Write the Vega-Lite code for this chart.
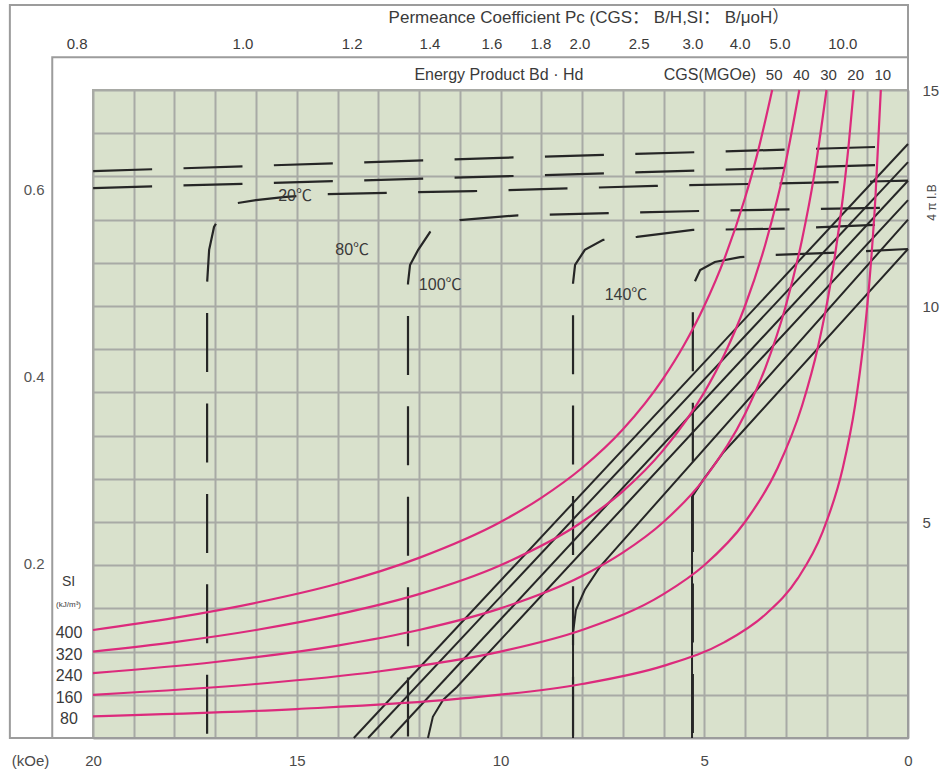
{
  "$schema": "https://vega.github.io/schema/vega-lite/v6.json",
  "width": 815,
  "height": 648,
  "autosize": {"type": "none"},
  "padding": {"left": 93, "top": 90, "right": 34, "bottom": 38},
  "background": "#ffffff",
  "config": {
    "font": "Liberation Sans, Noto Sans CJK SC, sans-serif",
    "view": {"fill": "#d9e1cc", "stroke": "#a8aaa5", "strokeWidth": 2},
    "axis": {"labelColor": "#4a4a4a", "titleColor": "#4a4a4a", "titleFontWeight": "normal"},
    "text": {"fill": "#3a3a3a"}
  },
  "datasets": {
    "pink": [
      {"BH": 50, "H": 20, "B": 2.5}, {"BH": 50, "H": 18, "B": 2.78}, {"BH": 50, "H": 16, "B": 3.13}, {"BH": 50, "H": 14, "B": 3.57},
      {"BH": 50, "H": 12, "B": 4.17}, {"BH": 50, "H": 10, "B": 5}, {"BH": 50, "H": 9, "B": 5.56}, {"BH": 50, "H": 8, "B": 6.25},
      {"BH": 50, "H": 7, "B": 7.14}, {"BH": 50, "H": 6, "B": 8.33}, {"BH": 50, "H": 5.5, "B": 9.09}, {"BH": 50, "H": 5, "B": 10},
      {"BH": 50, "H": 4.5, "B": 11.11}, {"BH": 50, "H": 4, "B": 12.5}, {"BH": 50, "H": 3.7, "B": 13.51}, {"BH": 50, "H": 3.333, "B": 15},
      {"BH": 40, "H": 20, "B": 2}, {"BH": 40, "H": 18, "B": 2.22}, {"BH": 40, "H": 16, "B": 2.5}, {"BH": 40, "H": 14, "B": 2.86},
      {"BH": 40, "H": 12, "B": 3.33}, {"BH": 40, "H": 10, "B": 4}, {"BH": 40, "H": 8, "B": 5}, {"BH": 40, "H": 7, "B": 5.71},
      {"BH": 40, "H": 6, "B": 6.67}, {"BH": 40, "H": 5, "B": 8}, {"BH": 40, "H": 4.5, "B": 8.89}, {"BH": 40, "H": 4, "B": 10},
      {"BH": 40, "H": 3.5, "B": 11.43}, {"BH": 40, "H": 3.2, "B": 12.5}, {"BH": 40, "H": 3, "B": 13.33}, {"BH": 40, "H": 2.667, "B": 15},
      {"BH": 30, "H": 20, "B": 1.5}, {"BH": 30, "H": 17, "B": 1.76}, {"BH": 30, "H": 14, "B": 2.14}, {"BH": 30, "H": 12, "B": 2.5},
      {"BH": 30, "H": 10, "B": 3}, {"BH": 30, "H": 8, "B": 3.75}, {"BH": 30, "H": 7, "B": 4.29}, {"BH": 30, "H": 6, "B": 5},
      {"BH": 30, "H": 5, "B": 6}, {"BH": 30, "H": 4, "B": 7.5}, {"BH": 30, "H": 3.5, "B": 8.57}, {"BH": 30, "H": 3, "B": 10},
      {"BH": 30, "H": 2.6, "B": 11.54}, {"BH": 30, "H": 2.3, "B": 13.04}, {"BH": 30, "H": 2, "B": 15},
      {"BH": 20, "H": 20, "B": 1}, {"BH": 20, "H": 16, "B": 1.25}, {"BH": 20, "H": 13, "B": 1.54}, {"BH": 20, "H": 10, "B": 2},
      {"BH": 20, "H": 8, "B": 2.5}, {"BH": 20, "H": 6, "B": 3.33}, {"BH": 20, "H": 5, "B": 4}, {"BH": 20, "H": 4, "B": 5},
      {"BH": 20, "H": 3.2, "B": 6.25}, {"BH": 20, "H": 2.6, "B": 7.69}, {"BH": 20, "H": 2.2, "B": 9.09}, {"BH": 20, "H": 1.9, "B": 10.53},
      {"BH": 20, "H": 1.6, "B": 12.5}, {"BH": 20, "H": 1.45, "B": 13.79}, {"BH": 20, "H": 1.333, "B": 15},
      {"BH": 10, "H": 20, "B": 0.5}, {"BH": 10, "H": 15, "B": 0.67}, {"BH": 10, "H": 11, "B": 0.91}, {"BH": 10, "H": 8, "B": 1.25},
      {"BH": 10, "H": 6, "B": 1.67}, {"BH": 10, "H": 4.5, "B": 2.22}, {"BH": 10, "H": 3.5, "B": 2.86}, {"BH": 10, "H": 2.7, "B": 3.7},
      {"BH": 10, "H": 2.1, "B": 4.76}, {"BH": 10, "H": 1.6, "B": 6.25}, {"BH": 10, "H": 1.3, "B": 7.69}, {"BH": 10, "H": 1.1, "B": 9.09},
      {"BH": 10, "H": 0.95, "B": 10.53}, {"BH": 10, "H": 0.8, "B": 12.5}, {"BH": 10, "H": 0.667, "B": 15}
    ],
    "grades": [
      {"BH": 50, "SI": "400"}, {"BH": 40, "SI": "320"}, {"BH": 30, "SI": "240"}, {"BH": 20, "SI": "160"}, {"BH": 10, "SI": "80"}
    ],
    "intrinsic": [
      {"c": "A", "i": 0, "H": 0.81, "B": 13.68}, {"c": "A", "i": 1, "H": 10, "B": 13.43}, {"c": "A", "i": 2, "H": 20, "B": 13.12},
      {"c": "B", "i": 0, "H": 0.81, "B": 13.26}, {"c": "B", "i": 1, "H": 10, "B": 13.0}, {"c": "B", "i": 2, "H": 20, "B": 12.73},
      {"c": "C", "i": 0, "H": 0, "B": 12.9}, {"c": "C", "i": 1, "H": 6.2, "B": 12.78}, {"c": "C", "i": 2, "H": 10.67, "B": 12.66},
      {"c": "C", "i": 3, "H": 14.3, "B": 12.59}, {"c": "C", "i": 4, "H": 15.33, "B": 12.52}, {"c": "C", "i": 5, "H": 16.0, "B": 12.45},
      {"c": "C", "i": 6, "H": 16.47, "B": 12.38}, {"c": "C", "i": 7, "H": 16.8, "B": 12.2}, {"c": "C", "i": 8, "H": 17.03, "B": 11.83},
      {"c": "C", "i": 9, "H": 17.15, "B": 11.3}, {"c": "C", "i": 10, "H": 17.2, "B": 10.53}, {"c": "C", "i": 11, "H": 17.2, "B": 0},
      {"c": "D", "i": 0, "H": 0.69, "B": 12.27}, {"c": "D", "i": 1, "H": 5.1, "B": 12.2}, {"c": "D", "i": 2, "H": 9.57, "B": 12.1},
      {"c": "D", "i": 3, "H": 11.0, "B": 11.99}, {"c": "D", "i": 4, "H": 11.5, "B": 11.85}, {"c": "D", "i": 5, "H": 11.73, "B": 11.71},
      {"c": "D", "i": 6, "H": 12.02, "B": 11.3}, {"c": "D", "i": 7, "H": 12.22, "B": 10.95}, {"c": "D", "i": 8, "H": 12.27, "B": 10.53},
      {"c": "D", "i": 9, "H": 12.27, "B": 0},
      {"c": "E", "i": 0, "H": 0.81, "B": 11.88}, {"c": "E", "i": 1, "H": 3.02, "B": 11.79}, {"c": "E", "i": 2, "H": 5.28, "B": 11.76},
      {"c": "E", "i": 3, "H": 6.65, "B": 11.6}, {"c": "E", "i": 4, "H": 7.48, "B": 11.53}, {"c": "E", "i": 5, "H": 7.93, "B": 11.3},
      {"c": "E", "i": 6, "H": 8.17, "B": 10.95}, {"c": "E", "i": 7, "H": 8.22, "B": 10.53}, {"c": "E", "i": 8, "H": 8.22, "B": 0},
      {"c": "F", "i": 0, "H": 0, "B": 11.32}, {"c": "F", "i": 1, "H": 1.91, "B": 11.23}, {"c": "F", "i": 2, "H": 3.34, "B": 11.18},
      {"c": "F", "i": 3, "H": 4.12, "B": 11.13}, {"c": "F", "i": 4, "H": 4.74, "B": 11.02}, {"c": "F", "i": 5, "H": 5.1, "B": 10.83},
      {"c": "F", "i": 6, "H": 5.25, "B": 10.53}, {"c": "F", "i": 7, "H": 5.28, "B": 10.1}, {"c": "F", "i": 8, "H": 5.28, "B": 0}
    ],
    "normal": [
      {"c": "L1", "i": 0, "H": 0, "B": 13.75}, {"c": "L1", "i": 1, "H": 13.6, "B": 0},
      {"c": "L2", "i": 0, "H": 0, "B": 13.33}, {"c": "L2", "i": 1, "H": 13.25, "B": 0},
      {"c": "L3", "i": 0, "H": 0, "B": 12.9}, {"c": "L3", "i": 1, "H": 12.7, "B": 0},
      {"c": "L4", "i": 0, "H": 0, "B": 12.45}, {"c": "L4", "i": 1, "H": 10.6, "B": 1.66}, {"c": "L4", "i": 2, "H": 11.07, "B": 1.18},
      {"c": "L4", "i": 3, "H": 11.41, "B": 0.88}, {"c": "L4", "i": 4, "H": 11.66, "B": 0.49}, {"c": "L4", "i": 5, "H": 11.78, "B": 0},
      {"c": "L5", "i": 0, "H": 0, "B": 12.0}, {"c": "L5", "i": 1, "H": 7.2, "B": 4.35}, {"c": "L5", "i": 2, "H": 7.56, "B": 3.96},
      {"c": "L5", "i": 3, "H": 7.93, "B": 3.43}, {"c": "L5", "i": 4, "H": 8.15, "B": 2.96}, {"c": "L5", "i": 5, "H": 8.22, "B": 2.43},
      {"c": "L5", "i": 6, "H": 8.22, "B": 0},
      {"c": "L6", "i": 0, "H": 0, "B": 11.32}, {"c": "L6", "i": 1, "H": 4.2, "B": 6.95}, {"c": "L6", "i": 2, "H": 4.54, "B": 6.6},
      {"c": "L6", "i": 3, "H": 5.03, "B": 5.97}, {"c": "L6", "i": 4, "H": 5.3, "B": 5.58}, {"c": "L6", "i": 5, "H": 5.3, "B": 0}
    ],
    "temps": [
      {"label": "20℃", "H": 15.04, "B": 12.55},
      {"label": "80℃", "H": 13.64, "B": 11.3},
      {"label": "100℃", "H": 11.48, "B": 10.49},
      {"label": "140℃", "H": 6.92, "B": 10.25}
    ],
    "pc": [
      {"Pc": "0.8", "H": 20.39}, {"Pc": "1.0", "H": 16.32}, {"Pc": "1.2", "H": 13.64}, {"Pc": "1.4", "H": 11.73},
      {"Pc": "1.6", "H": 10.21}, {"Pc": "1.8", "H": 9.01}, {"Pc": "2.0", "H": 8.05}, {"Pc": "2.5", "H": 6.6},
      {"Pc": "3.0", "H": 5.28}, {"Pc": "4.0", "H": 4.12}, {"Pc": "5.0", "H": 3.14}, {"Pc": "10.0", "H": 1.6}
    ],
    "left": [{"T": 0.2}, {"T": 0.4}, {"T": 0.6}]
  },
  "layer": [
    {
      "layer": [
        {
          "data": {"values": [{}]},
          "mark": {"type": "rect", "fill": "transparent", "stroke": "#9c9c9c", "strokeWidth": 2},
          "encoding": {
            "x": {"datum": 22.04, "type": "quantitative",
              "scale": {"domain": [0, 20], "reverse": true, "nice": false, "zero": false},
              "axis": {"orient": "bottom", "values": [0,1,2,3,4,5,6,7,8,9,10,11,12,13,14,15,16,17,18,19,20],
                "labelExpr": "datum.value % 5 === 0 ? datum.label : ''",
                "grid": true, "gridColor": "#a8aaa5", "gridWidth": 2, "domain": false, "ticks": false,
                "labelFlush": false, "labelOverlap": false, "labelPadding": 22, "labelBaseline": "middle", "labelFontSize": 15,
                "title": "(kOe)", "titleX": -63, "titleY": 22, "titleAlign": "center", "titleBaseline": "middle", "titleFontSize": 15}},
            "x2": {"datum": 0},
            "y": {"datum": 0, "type": "quantitative",
              "scale": {"domain": [0, 15], "nice": false, "zero": false},
              "axis": {"orient": "right", "values": [0,1,2,3,4,5,6,7,8,9,10,11,12,13,14,15],
                "labelExpr": "datum.value % 5 === 0 && datum.value > 0 ? datum.label : ''",
                "grid": true, "gridColor": "#a8aaa5", "gridWidth": 2, "domain": false, "ticks": false,
                "labelFlush": false, "labelOverlap": false, "labelPadding": 14, "labelFontSize": 15, "labelBaseline": "middle",
                "title": "4 π I.B", "titleAngle": -90, "titleX": 23, "titleY": 112, "titleAlign": "center", "titleBaseline": "middle", "titleFontSize": 12}},
            "y2": {"datum": 16.97}
          }
        },
        {
          "data": {"values": [{}]},
          "mark": {"type": "rect", "fill": "transparent", "stroke": "#9c9c9c", "strokeWidth": 2},
          "encoding": {
            "x": {"datum": 21.0, "type": "quantitative"},
            "x2": {"datum": 0},
            "y": {"datum": 0, "type": "quantitative"},
            "y2": {"datum": 15.76}
          }
        },
        {
          "data": {"name": "intrinsic"},
          "transform": [{"filter": "datum.c !== 'C' && datum.c !== 'F'"}],
          "mark": {"type": "line", "stroke": "#262626", "strokeWidth": 2.2, "strokeDash": [59, 31.4], "strokeDashOffset": 0},
          "encoding": {
            "x": {"field": "H", "type": "quantitative"},
            "y": {"field": "B", "type": "quantitative"},
            "detail": {"field": "c"},
            "order": {"field": "i"}
          }
        },
        {
          "data": {"name": "intrinsic"},
          "transform": [{"filter": "datum.c === 'C'"}],
          "mark": {"type": "line", "stroke": "#262626", "strokeWidth": 2.2, "strokeDash": [59, 31.4], "strokeDashOffset": 21},
          "encoding": {
            "x": {"field": "H", "type": "quantitative"},
            "y": {"field": "B", "type": "quantitative"},
            "order": {"field": "i"}
          }
        },
        {
          "data": {"name": "intrinsic"},
          "transform": [{"filter": "datum.c === 'F'"}],
          "mark": {"type": "line", "stroke": "#262626", "strokeWidth": 2.2, "strokeDash": [59, 31.4], "strokeDashOffset": 17},
          "encoding": {
            "x": {"field": "H", "type": "quantitative"},
            "y": {"field": "B", "type": "quantitative"},
            "order": {"field": "i"}
          }
        },
        {
          "data": {"name": "normal"},
          "mark": {"type": "line", "stroke": "#262626", "strokeWidth": 2, "interpolate": "linear"},
          "encoding": {
            "x": {"field": "H", "type": "quantitative"},
            "y": {"field": "B", "type": "quantitative"},
            "detail": {"field": "c"},
            "order": {"field": "i"}
          }
        },
        {
          "data": {"name": "pink"},
          "mark": {"type": "line", "stroke": "#dc2a7c", "strokeWidth": 2.2, "interpolate": "monotone"},
          "encoding": {
            "x": {"field": "H", "type": "quantitative"},
            "y": {"field": "B", "type": "quantitative"},
            "detail": {"field": "BH"}
          }
        },
        {
          "data": {"name": "temps"},
          "mark": {"type": "text", "fontSize": 16, "align": "center", "baseline": "middle"},
          "encoding": {
            "x": {"field": "H", "type": "quantitative"},
            "y": {"field": "B", "type": "quantitative"},
            "text": {"field": "label"}
          }
        },
        {
          "data": {"name": "pink"},
          "transform": [
            {"filter": "datum.H === 20"},
            {"lookup": "BH", "from": {"data": {"name": "grades"}, "key": "BH", "fields": ["SI"]}}
          ],
          "mark": {"type": "text", "fontSize": 16, "align": "center", "baseline": "middle", "dx": -24, "dy": 3},
          "encoding": {
            "x": {"field": "H", "type": "quantitative"},
            "y": {"field": "B", "type": "quantitative"},
            "text": {"field": "SI"}
          }
        },
        {
          "data": {"values": [{}]},
          "mark": {"type": "text", "text": "SI", "fontSize": 14, "align": "center", "baseline": "middle"},
          "encoding": {"x": {"datum": 20.6, "type": "quantitative"}, "y": {"datum": 3.61, "type": "quantitative"}}
        },
        {
          "data": {"values": [{}]},
          "mark": {"type": "text", "text": "(kJ/m³)", "fontSize": 8, "align": "center", "baseline": "middle"},
          "encoding": {"x": {"datum": 20.6, "type": "quantitative"}, "y": {"datum": 3.08, "type": "quantitative"}}
        },
        {
          "data": {"name": "pink"},
          "transform": [{"filter": "datum.B === 15"}],
          "mark": {"type": "text", "fontSize": 15, "align": "center", "baseline": "middle", "dx": 2},
          "encoding": {
            "x": {"field": "H", "type": "quantitative"},
            "y": {"datum": 15.35, "type": "quantitative"},
            "text": {"field": "BH"}
          }
        },
        {
          "data": {"values": [{}]},
          "mark": {"type": "text", "text": "Energy Product Bd · Hd", "fontSize": 16, "align": "center", "baseline": "middle"},
          "encoding": {"x": {"datum": 10.04, "type": "quantitative"}, "y": {"datum": 15.35, "type": "quantitative"}}
        },
        {
          "data": {"values": [{}]},
          "mark": {"type": "text", "text": "CGS(MGOe)", "fontSize": 16, "align": "center", "baseline": "middle"},
          "encoding": {"x": {"datum": 4.86, "type": "quantitative"}, "y": {"datum": 15.35, "type": "quantitative"}}
        },
        {
          "data": {"name": "pc"},
          "mark": {"type": "text", "fontSize": 15, "align": "center", "baseline": "middle"},
          "encoding": {
            "x": {"field": "H", "type": "quantitative"},
            "y": {"datum": 16.06, "type": "quantitative"},
            "text": {"field": "Pc"}
          }
        },
        {
          "data": {"values": [{}]},
          "mark": {"type": "text", "text": "Permeance Coefficient Pc (CGS： B/H,SI： B/μoH）", "fontSize": 17, "align": "center", "baseline": "middle"},
          "encoding": {"x": {"datum": 7.83, "type": "quantitative"}, "y": {"datum": 16.67, "type": "quantitative"}}
        }
      ]
    },
    {
      "data": {"name": "left"},
      "mark": {"type": "rule", "strokeOpacity": 0},
      "encoding": {
        "y": {"field": "T", "type": "quantitative",
          "scale": {"domain": [0.013, 0.706], "nice": false, "zero": false},
          "axis": {"orient": "left", "values": [0.2, 0.4, 0.6], "grid": false, "domain": false, "ticks": false,
            "labelPadding": 49, "labelFontSize": 15, "labelColor": "#555555", "title": null}}
      }
    }
  ],
  "resolve": {"scale": {"y": "independent"}}
}
